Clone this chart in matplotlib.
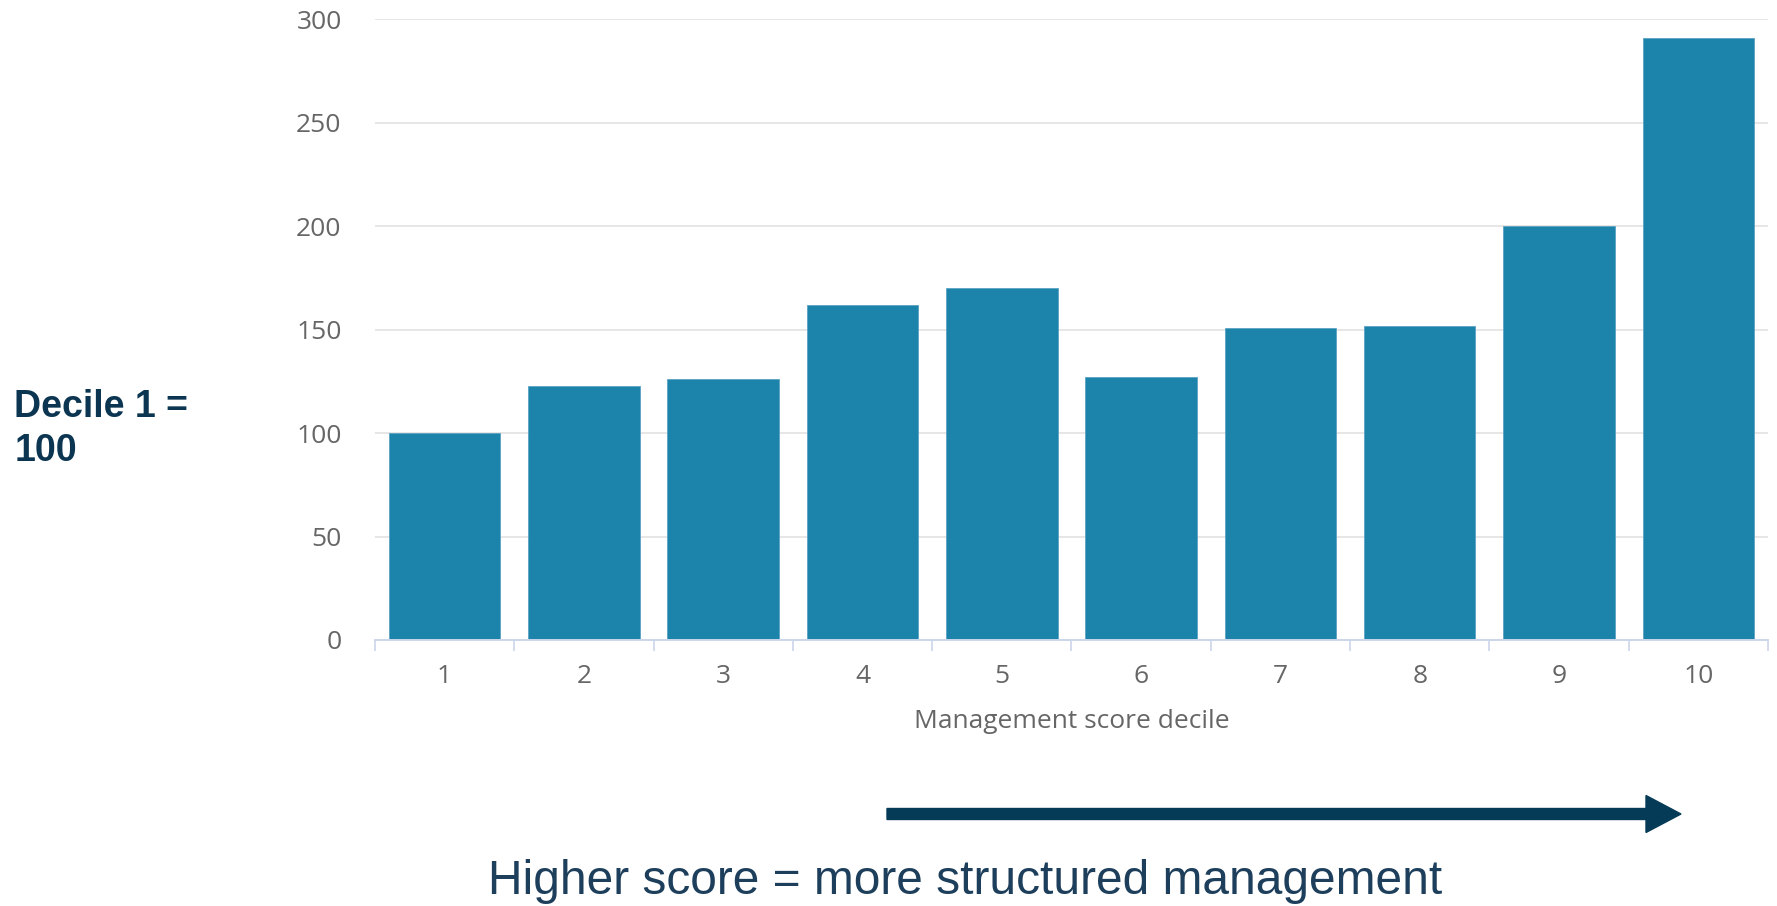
import matplotlib
matplotlib.use("Agg")
import matplotlib.pyplot as plt
from matplotlib.patches import FancyArrow

# Relative output by management score decile (decile 1 = 100)
deciles = ["1", "2", "3", "4", "5", "6", "7", "8", "9", "10"]
values = [100, 123, 126, 162, 170, 127, 151, 152, 200, 291]
y_ticks = [0, 50, 100, 150, 200, 250, 300]

BAR = "#1c84ab"
NAVY = "#063b57"
GREY = "#666666"

fig = plt.figure(figsize=(17.77, 9.06), dpi=100)
ax = fig.add_axes([0.2110, 0.2936, 0.7839, 0.6851])

x = list(range(1, len(deciles) + 1))
ax.bar(x, values, width=0.8, color=BAR, edgecolor="#5aa3c3", linewidth=0.6, zorder=3)

ax.set_xlim(0.5, len(deciles) + 0.5)
ax.set_ylim(0, 300)
ax.set_yticks(y_ticks)
ax.set_yticklabels([str(v) for v in y_ticks], family="Open Sans", fontsize=19, color=GREY)
ax.set_xticks(x)
ax.set_xticklabels(deciles, family="Open Sans", fontsize=19, color=GREY)
ax.set_xticks([i + 0.5 for i in range(0, len(deciles) + 1)], minor=True)

ax.tick_params(axis="y", length=0, pad=24)
ax.tick_params(axis="x", which="major", length=0, pad=17)
ax.tick_params(axis="x", which="minor", length=8, width=1.2, color="#ccd6eb")

ax.grid(axis="y", color="#e6e6e6", linewidth=1.4, zorder=0)
for side in ("top", "right", "left"):
    ax.spines[side].set_visible(False)
ax.spines["bottom"].set_color("#ccd6eb")
ax.spines["bottom"].set_linewidth(1.4)
ax.spines["bottom"].set_zorder(4)

ax.set_xlabel("Management score decile", family="Open Sans", fontsize=19,
              color=GREY, labelpad=15)

# Left-hand note on the index base
fig.text(0.008, 0.5266, "Decile 1 =\n100", family="Liberation Sans", fontweight="bold",
         fontsize=27, color="#0b3550", ha="left", va="center", linespacing=1.3)

# Direction arrow and caption below the chart
y_arrow = 1 - 814 / 906
fig.patches.append(FancyArrow(887 / 1777, y_arrow, (1646 - 887) / 1777, 0,
                              width=11 / 906, head_width=37 / 906, head_length=35 / 1777,
                              length_includes_head=False, color=NAVY,
                              transform=fig.transFigure, figure=fig))
fig.text(965 / 1777, 1 - 882 / 906, "Higher score = more structured management",
         family="Liberation Sans", fontsize=34.5, color="#1d3f5c", ha="center", va="center")

fig.savefig("out.png", dpi=100, facecolor="white")
